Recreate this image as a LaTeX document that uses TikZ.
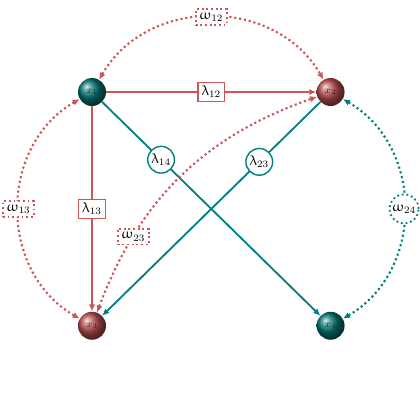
\documentclass[tikz,border=0pt]{standalone}
\usepackage{tikz}
\usepackage{xcolor}
\usepackage{upgreek}
\usetikzlibrary{arrows.meta,positioning,shapes.geometric,calc}

\definecolor{rust}{RGB}{204,85,85}
\definecolor{sea}{RGB}{0,128,128}

\begin{document}
\begin{tikzpicture}[node distance=5.25cm, every node/.style={font=\normalsize}, >={Latex[length=5pt,width=4.5pt]},
  seaball/.style={circle, ball color=sea!90!black, minimum size=0.7cm, inner sep=0pt, font=\scriptsize, text=black!85},
  rustball/.style={circle, ball color=rust!90!black, minimum size=0.7cm, inner sep=0pt, font=\scriptsize, text=black!85},
  rline/.style={draw=rust, line width=1.3pt},
  sline/.style={draw=sea, line width=1.3pt},
  rdot/.style={draw=rust, line width=1.5pt, dotted},
  sdot/.style={draw=sea, line width=1.5pt, dotted},
  lbox/.style={draw=rust, line width=1pt, fill=white, inner sep=2.5pt},
  lring/.style={draw=sea, circle, line width=1pt, fill=white, inner sep=1pt},
  wbox/.style={draw=rust, line width=1.3pt, dotted, fill=white, inner sep=2.5pt},
  wring/.style={draw=sea, circle, line width=1.3pt, dotted, fill=white, inner sep=1pt}]
  \useasboundingbox (0,0) rectangle (10.5,10.5);
  \node[seaball] (x1) at (2.3,8.2) {$x_1$};
  \node[rustball, right=of x1] (x2) {$x_2$};
  \node[rustball, below=5.13cm of x1] (x3) {$x_3$};
  \node[seaball, below=5.13cm of x2] (x4) {$x_4$};
  % rates
  \draw[->, rline] (x1) -- node[lbox]{$\uplambda_{12}$} (x2);
  \draw[->, rline] (x1) -- node[lbox]{$\uplambda_{13}$} (x3);
  \draw[->, sline] (x1) -- node[lring, pos=0.27]{$\uplambda_{14}$} (x4);
  \draw[->, sline] (x2) -- node[lring, pos=0.28]{$\uplambda_{23}$} (x3);
  % couplings
  \draw[<->, rdot] (x1) to[out=60, in=120, looseness=1.1] node[wbox]{$\upomega_{12}$} (x2);
  \draw[<->, rdot] (x1) to[out=210, in=150, looseness=1.1] node[wbox]{$\upomega_{13}$} (x3);
  \draw[<->, rdot] (x3) to[bend left=25] node[wbox, pos=0.25]{$\upomega_{23}$} (x2);
  \draw[<->, sdot] (x2) to[out=-30, in=30, looseness=1.1] node[wring]{$\upomega_{24}$} (x4);
\end{tikzpicture}
\end{document}
